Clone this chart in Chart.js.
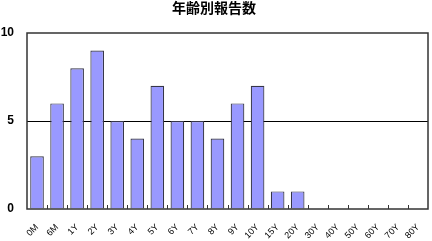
<!DOCTYPE html>
<html>
<head>
<meta charset="utf-8">
<script src="https://cdn.jsdelivr.net/npm/chart.js@4/dist/chart.umd.min.js"></script>
<style>
  html, body { margin: 0; padding: 0; background: #fff; }
  #wrap { width: 432px; height: 241px; }
</style>
</head>
<body>
<div id="wrap"><canvas id="myChart" width="432" height="241"></canvas></div>
<script>
var categories = ['0M', '6M', '1Y', '2Y', '3Y', '4Y', '5Y', '6Y', '7Y', '8Y', '9Y', '10Y', '15Y', '20Y', '30Y', '40Y', '50Y', '60Y', '70Y', '80Y'];
var reports = [3, 6, 8, 9, 5, 4, 7, 5, 5, 4, 6, 7, 1, 1, 0, 0, 0, 0, 0, 0];
var yTicks = [0, 5, 10];

// frame round the plot and small ticks between categories
var frame = {
    id: 'frame',
    afterDatasetsDraw: function(chart) {
        var a = chart.chartArea;
        var ctx = chart.ctx;
        var x = chart.scales.x;
        ctx.save();
        ctx.strokeStyle = '#333';
        ctx.lineWidth = 1.5;
        ctx.strokeRect(a.left, a.top, a.right - a.left, a.bottom - a.top);
        ctx.lineWidth = 1;
        ctx.beginPath();
        for (var i = 1; i < categories.length; i++) {
            var px = Math.round((x.getPixelForValue(i - 1) + x.getPixelForValue(i)) / 2) + 0.5;
            ctx.moveTo(px, a.bottom);
            ctx.lineTo(px, a.bottom - 4);
        }
        ctx.stroke();
        ctx.restore();
    }
};

var ctx = document.getElementById('myChart');
new Chart(ctx, {
    type: 'bar',
    data: {
        labels: categories,
        datasets: [{
            data: reports,
            backgroundColor: '#9999ff',
            borderColor: '#363648',
            borderWidth: 1.2,
            categoryPercentage: 1,
            barPercentage: 0.68
        }]
    },
    options: {
        responsive: false,
        animation: false,
        layout: { padding: { left: 0, right: 4, top: 0, bottom: 0 } },
        plugins: {
            legend: { display: false },
            tooltip: { enabled: false },
            title: {
                display: true,
                text: '年齢別報告数',
                color: '#000',
                font: { family: '"Noto Sans CJK JP"', size: 14, weight: 'bold', lineHeight: 1 },
                padding: { top: 1, bottom: 18 }
            }
        },
        scales: {
            x: {
                grid: { display: false },
                border: { display: false },
                ticks: {
                    color: '#000',
                    font: { family: '"Liberation Sans", Arial', size: 9 },
                    minRotation: 45,
                    maxRotation: 45,
                    padding: 5,
                    autoSkip: false
                },
                afterFit: function(scale) { scale.height = 32; }
            },
            y: {
                min: 0,
                max: 10,
                afterBuildTicks: function(scale) {
                    scale.ticks = yTicks.map(function(v) { return { value: v }; });
                },
                grid: {
                    drawTicks: false,
                    color: function(c) { return c.tick && c.tick.value === 5 ? '#000' : 'rgba(0,0,0,0)'; },
                    lineWidth: 1
                },
                border: { display: false },
                ticks: {
                    color: '#000',
                    font: { family: '"Liberation Sans", Arial', size: 12, weight: 'bold' },
                    padding: 13
                },
                afterFit: function(scale) { scale.width = 27; }
            }
        }
    },
    plugins: [frame]
});
</script>
</body>
</html>
